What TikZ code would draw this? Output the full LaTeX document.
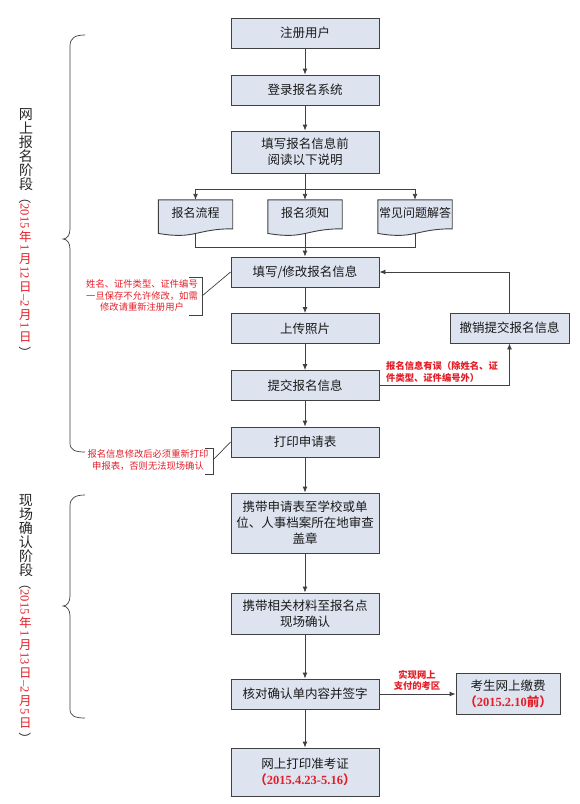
\documentclass[tikz,border=0pt]{standalone}
\usepackage{fontspec}
\setmainfont{Noto Sans CJK SC}
\newfontfamily\tnr{Liberation Serif}
\usepackage{graphicx}
\usetikzlibrary{arrows.meta,calc}
\definecolor{boxfill}{RGB}{221,228,240}
\definecolor{edge}{RGB}{64,64,64}
\definecolor{redtxt}{RGB}{228,30,40}
\newcommand\up[1]{\rotatebox[origin=c]{90}{\makebox[1em][c]{\rule[-0.12em]{0pt}{1em}#1}}}
\newcommand\upd[1]{\kern1.6pt\rotatebox[origin=c]{90}{\makebox[1em][c]{\rule[-0.12em]{0pt}{1em}#1}}\kern1.6pt}
\newcommand\docoutline[1]{%
  \filldraw[draw=edge, line width=0.9pt, fill=boxfill]
   (#1.north west) -- (#1.north east) -- ($(#1.north east)+(0,29)$)
   .. controls ($(#1.north)+(0,29)$) and ($(#1.north)+(0,40)$) .. ($(#1.north west)+(0,33.6)$) -- cycle;}
\begin{document}
\begin{tikzpicture}[x=1pt,y=-1pt,
  box/.style={draw=edge, line width=0.9pt, fill=boxfill, minimum width=148pt, inner sep=2pt,
    align=center, font=\fontsize{12.5}{16}\selectfont, text=black!90},
  docshape/.style={minimum width=74pt, minimum height=36pt, inner sep=0pt},
  doctext/.style={inner sep=0pt, font=\fontsize{12}{14}\selectfont, text=black!90},
  link/.style={draw=edge, line width=0.9pt},
  thinlink/.style={draw=edge, line width=0.7pt},
  arr/.style={link, -{Latex[length=6pt,width=5pt]}},
  anno/.style={text=redtxt, align=center, font=\fontsize{9.3}{11.5}\selectfont, inner sep=0pt},
  annob/.style={anno, font=\fontsize{9.3}{11.5}\selectfont\bfseries},
  vtext/.style={rotate=-90, anchor=west, inner sep=0pt, text=black!85},
]
\useasboundingbox (0,0) rectangle (580,804);
\fill[white] (0,0) rectangle (580,804);

% main column
\node[box, minimum height=30pt] (b1) at (305,33) {注册用户};
\node[box, minimum height=30pt] (b2) at (305,90) {登录报名系统};
\node[box, minimum height=42pt] (b3) at (305,152) {填写报名信息前\\阅读以下说明};

% documents
\node[docshape] (d1) at (195.5,218) {};
\node[docshape] (d2) at (305,218) {};
\node[docshape] (d3) at (415,218) {};
\docoutline{d1}\docoutline{d2}\docoutline{d3}
\node[doctext] (d1t) at (195.5,213) {报名流程};
\node[doctext] (d2t) at (305,213) {报名须知};
\node[doctext] (d3t) at (415,213) {常见问题解答};
\coordinate (d1b) at ($(d1.north)+(0,33.6)$);
\coordinate (d2b) at ($(d2.north)+(0,33.6)$);
\coordinate (d3b) at ($(d3.north)+(0,33.6)$);
\coordinate (sp) at (305,189);
\coordinate (jn) at (305,247);

\node[box, minimum height=30pt] (b4) at (305,272) {填写/修改报名信息};
\node[box, minimum height=30pt] (b5) at (305,328.5) {上传照片};
\node[box, minimum height=30pt] (b6) at (305,385.5) {提交报名信息};
\node[box, minimum height=30pt] (b7) at (305,442) {打印申请表};
\node[box, minimum height=60pt] (b8) at (305,523) {携带申请表至学校或单\\位、人事档案所在地审查\\盖章};
\node[box, minimum height=41pt] (b9) at (305,613.5) {携带相关材料至报名点\\现场确认};
\node[box, minimum height=30pt] (b10) at (305,694) {核对确认单内容并签字};
\node[box, minimum height=48pt] (b11) at (305,772) {网上打印准考证\\{\color{redtxt}\bfseries （{\tnr 2015.4.23-5.16}）}};
\node[box, minimum height=41pt, minimum width=104pt] (b12) at (508,694) {考生网上缴费\\{\color{redtxt}\bfseries （{\tnr 2015.2.10}前）}};
\node[box, minimum height=30pt, minimum width=119pt] (r) at (509.5,328) {撤销提交报名信息};

% connectors
\draw[arr] (b1.south) -- (b2.north);
\draw[arr] (b2.south) -- (b3.north);
\draw[arr] (b3.south) -- (d2.north);
\draw[arr] (sp) -| (d1.north);
\draw[arr] (sp) -| (d3.north);
\draw[link] (d1b) |- (jn);
\draw[link] (d3b) |- (jn);
\draw[arr] (d2b) -- (b4.north);
\foreach \a/\b in {b4/b5,b5/b6,b6/b7,b7/b8,b8/b9,b9/b10,b10/b11}
  \draw[arr] (\a.south) -- (\b.north);
\draw[arr] (b10.east) -- (b12.west);
\draw[arr] (b6.east) -| (r.south);
\draw[arr] (r.north) |- (b4.east);

% labels
\node[annob, align=left, anchor=west] (err) at (386,372) {报名信息有误（除姓名、证\\件类型、证件编号外）};
\node[annob] (pay) at (417,680.5) {实现网上\\支付的考区};

% annotation 1
\node[anno] (n1) at (142,295.5) {姓名、证件类型、证件编号\\一旦保存不允许修改，如需\\修改请重新注册用户};
\draw[thinlink] (189,277) -- (202,277) -- (202,315) -- (189,315);
\coordinate (n1b) at (202,296);
\draw[thinlink] (n1b) -- (b4.west);

% annotation 2
\node[anno] (n2) at (148,460) {报名信息修改后必须重新打印\\申报表，否则无法现场确认};
\draw[thinlink] (205,448) -- (213,448) -- (213,474) -- (205,474);
\coordinate (n2b) at (213,460);
\draw[thinlink] (n2b) -- (b7.west);

% braces
\draw[thinlink] (85,35) .. controls (75,35) and (70,38) .. (70,46) -- (70,229)
  .. controls (70,235) and (67,239) .. (63,239) .. controls (67,239) and (70,243) .. (70,249)
  -- (70,443) .. controls (70,450) and (75,452) .. (85,452);
\draw[thinlink] (85,495) .. controls (75,495) and (70,498) .. (70,506) -- (70,596)
  .. controls (70,602) and (67,606) .. (63,606) .. controls (67,606) and (70,610) .. (70,616)
  -- (70,709) .. controls (70,716) and (75,718) .. (85,718);

% vertical stage labels
\node[vtext] (v1) at (26,107) {\fontsize{14}{14}\selectfont\up{网}\up{上}\up{报}\up{名}\up{阶}\up{段}\fontsize{12.5}{12.5}\selectfont （\textcolor{redtxt}{{\tnr 2015}\upd{年}{\tnr 1}\upd{月}{\tnr 12}\upd{日}{\tnr –2}\upd{月}{\tnr 1}\upd{日}}\kern2pt）};
\node[vtext] (v2) at (26,493) {\fontsize{14}{14}\selectfont\up{现}\up{场}\up{确}\up{认}\up{阶}\up{段}\fontsize{12.5}{12.5}\selectfont （\textcolor{redtxt}{{\tnr 2015}\upd{年}{\tnr 1}\upd{月}{\tnr 13}\upd{日}{\tnr –2}\upd{月}{\tnr 5}\upd{日}}\kern2pt）};
\end{tikzpicture}
\end{document}
